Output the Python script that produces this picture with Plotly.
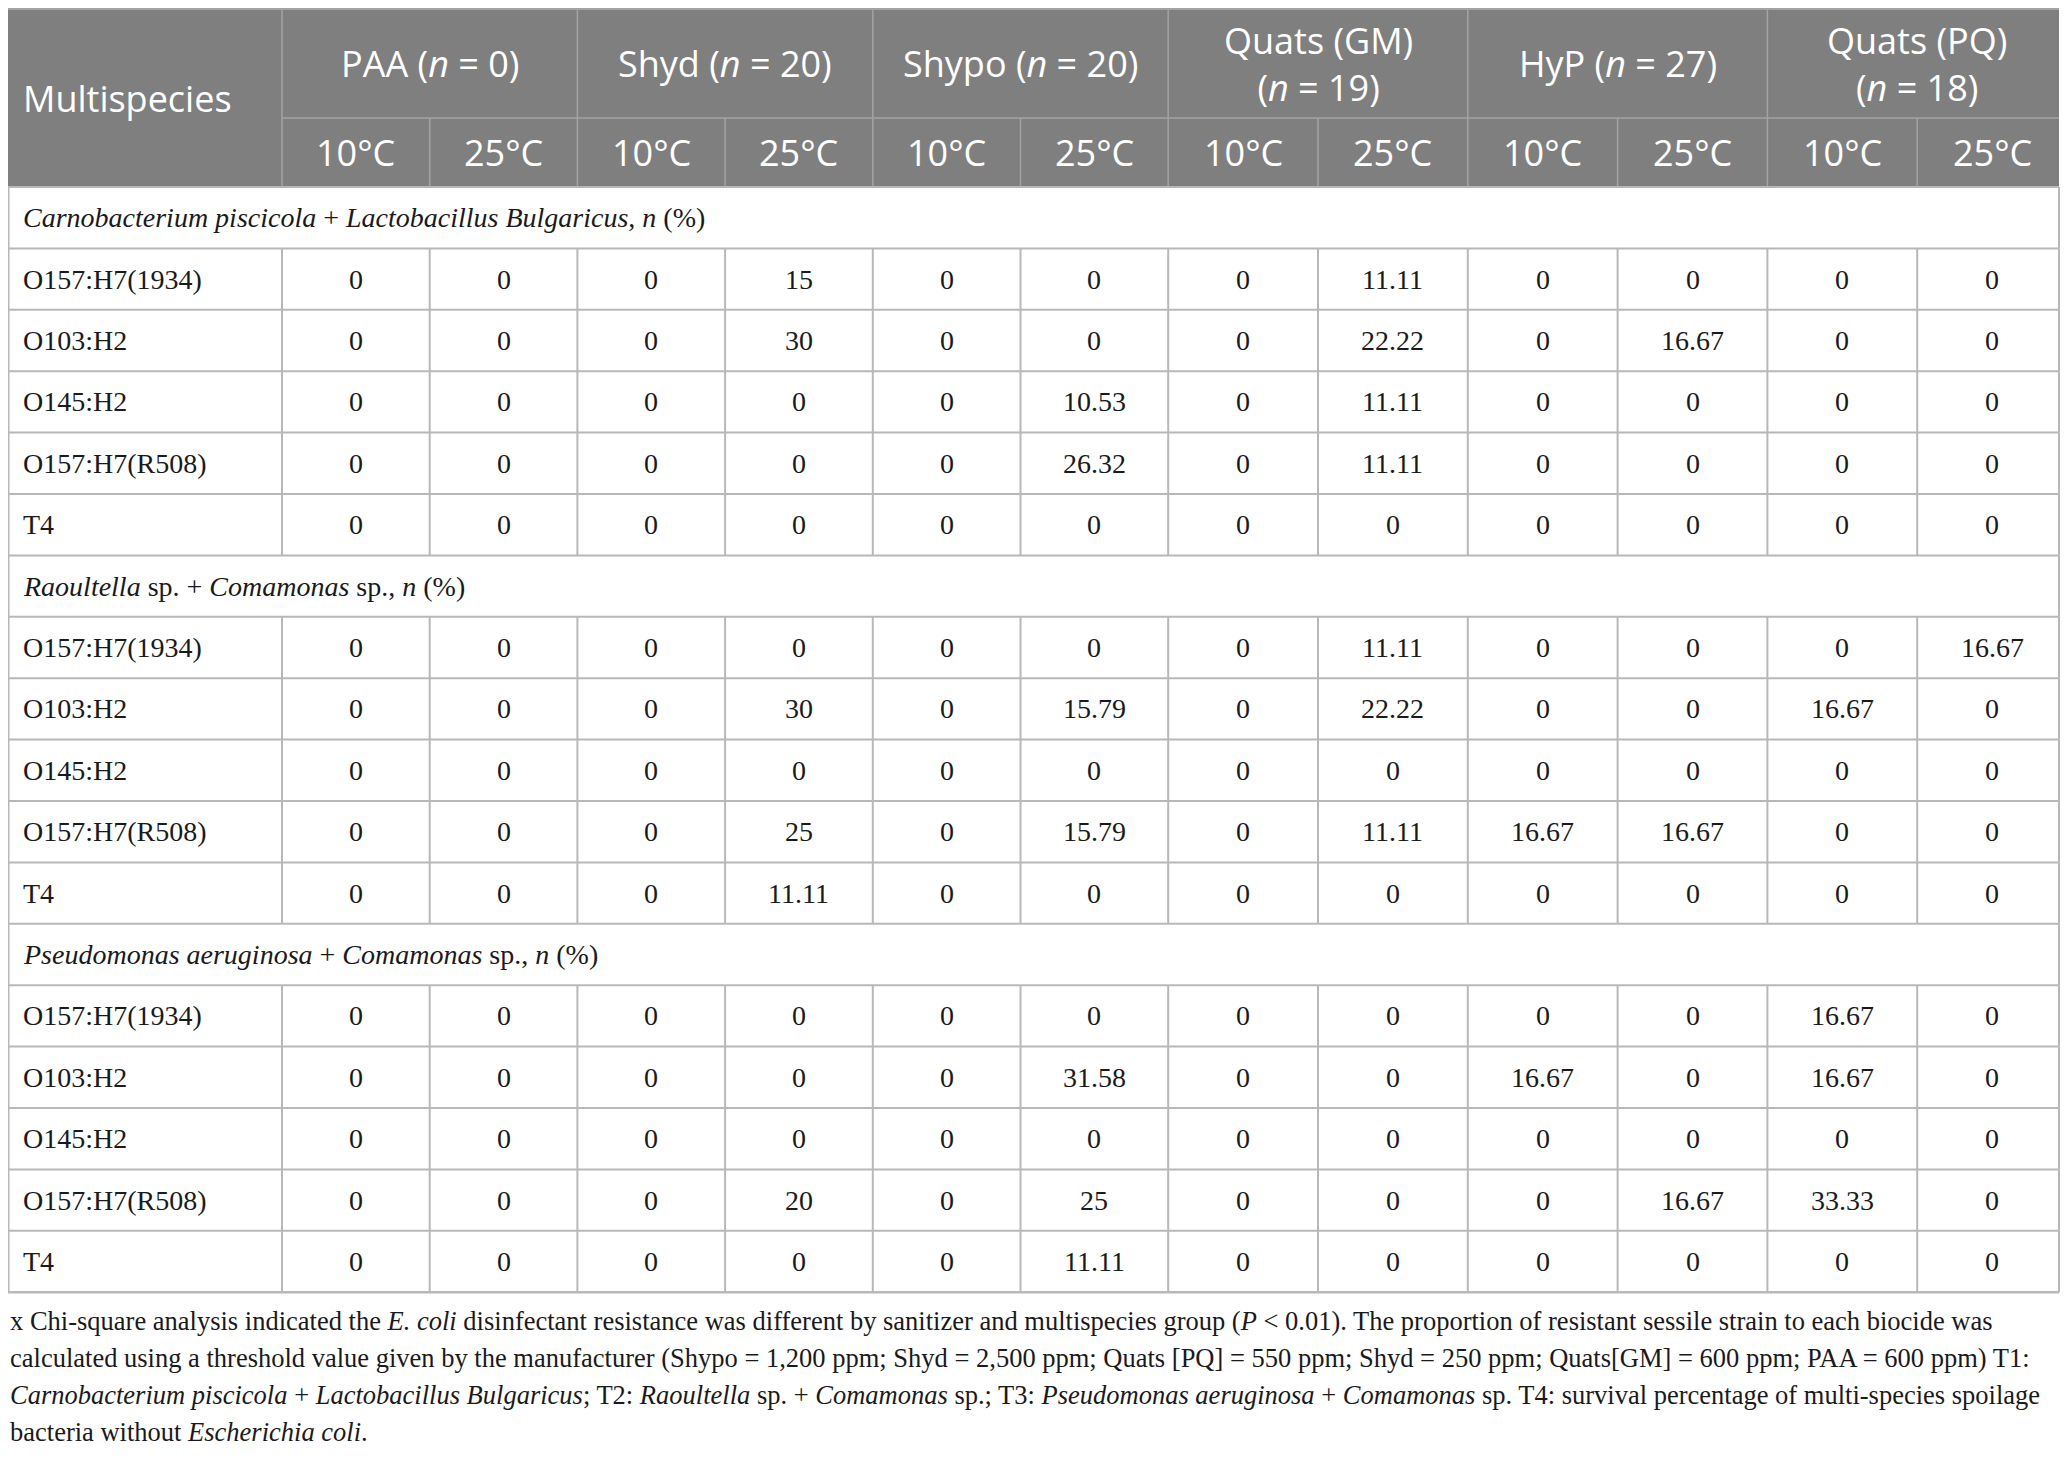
import plotly.graph_objects as go

# ---- table content ----
biocides = ["PAA (<i>n</i> = 0)", "Shyd (<i>n</i> = 20)", "Shypo (<i>n</i> = 20)",
            "Quats (GM)<br>(<i>n</i> = 19)", "HyP (<i>n</i> = 27)", "Quats (PQ)<br>(<i>n</i> = 18)"]
temps = ["10°C", "25°C"]
strains = ["O157:H7(1934)", "O103:H2", "O145:H2", "O157:H7(R508)", "T4"]

group_labels = [
    "<i>Carnobacterium piscicola</i> + <i>Lactobacillus Bulgaricus</i>, <i>n</i> (%)",
    "<i>Raoultella</i> sp. + <i>Comamonas</i> sp., <i>n</i> (%)",
    "<i>Pseudomonas aeruginosa</i> + <i>Comamonas</i> sp., <i>n</i> (%)",
]

carno_lacto = [
    [0, 0, 0, 15, 0, 0, 0, 11.11, 0, 0, 0, 0],
    [0, 0, 0, 30, 0, 0, 0, 22.22, 0, 16.67, 0, 0],
    [0, 0, 0, 0, 0, 10.53, 0, 11.11, 0, 0, 0, 0],
    [0, 0, 0, 0, 0, 26.32, 0, 11.11, 0, 0, 0, 0],
    [0, 0, 0, 0, 0, 0, 0, 0, 0, 0, 0, 0],
]
raoul_coma = [
    [0, 0, 0, 0, 0, 0, 0, 11.11, 0, 0, 0, 16.67],
    [0, 0, 0, 30, 0, 15.79, 0, 22.22, 0, 0, 16.67, 0],
    [0, 0, 0, 0, 0, 0, 0, 0, 0, 0, 0, 0],
    [0, 0, 0, 25, 0, 15.79, 0, 11.11, 16.67, 16.67, 0, 0],
    [0, 0, 0, 11.11, 0, 0, 0, 0, 0, 0, 0, 0],
]
pseudo_coma = [
    [0, 0, 0, 0, 0, 0, 0, 0, 0, 0, 16.67, 0],
    [0, 0, 0, 0, 0, 31.58, 0, 0, 16.67, 0, 16.67, 0],
    [0, 0, 0, 0, 0, 0, 0, 0, 0, 0, 0, 0],
    [0, 0, 0, 20, 0, 25, 0, 0, 0, 16.67, 33.33, 0],
    [0, 0, 0, 0, 0, 11.11, 0, 0, 0, 0, 0, 0],
]
groups = [carno_lacto, raoul_coma, pseudo_coma]

footnote_lines = [
    "x Chi-square analysis indicated the <i>E. coli</i> disinfectant resistance was different by sanitizer and "
    "multispecies group (<i>P</i> < 0.01). The proportion of resistant sessile strain to each biocide was",
    "calculated using a threshold value given by the manufacturer (Shypo = 1,200 ppm; Shyd = 2,500 ppm; "
    "Quats [PQ] = 550 ppm; Shyd = 250 ppm; Quats[GM] = 600 ppm; PAA = 600 ppm) T1:",
    "<i>Carnobacterium piscicola</i> + <i>Lactobacillus Bulgaricus</i>; T2: <i>Raoultella</i> sp. + "
    "<i>Comamonas</i> sp.; T3: <i>Pseudomonas aeruginosa</i> + <i>Comamonas</i> sp. T4: survival percentage "
    "of multi-species spoilage",
    "bacteria without <i>Escherichia coli</i>.",
]

# ---- geometry / style ----
W, H = 2068, 1460
PAGE = 8  # default body margin of the html page
first_w = 282
col_w = [147.7] * 6 + [149.8] * 6
top, head_mid, head_bot = 9, 118, 187
row_h = 61.4
head_bg = "#7f7f7f"
head_line = "#a3a3a3"
body_line = "#b8b8b8"
ink = "#1a1a1a"
sans = "Open Sans"
serif = "Liberation Serif"
head_size, body_size, note_size = 36, 28, 26.5

edges = [0, first_w]
for w in col_w:
    edges.append(edges[-1] + w)
right = W - PAGE - 1

shapes, annots = [], []


def line(x0, y0, x1, y1, color, width=1.5):
    shapes.append(dict(type="line", xref="x", yref="y", x0=x0, y0=y0, x1=x1, y1=y1,
                       line=dict(color=color, width=width)))


def text(x, y, s, size, family, color=ink, anchor="center"):
    annots.append(dict(x=x, y=y, xref="x", yref="y", text=s, showarrow=False,
                       xanchor=anchor, yanchor="middle", align=anchor,
                       font=dict(size=size, family=family, color=color)))


# header block
shapes.append(dict(type="rect", xref="x", yref="y", x0=PAGE, y0=top, x1=right, y1=head_bot,
                   fillcolor=head_bg, line=dict(width=0), layer="below"))
line(PAGE, top, right, top, head_line, 2)
line(first_w, head_mid, right, head_mid, head_line)
for i in range(0, 12, 2):
    line(edges[i + 1], top, edges[i + 1], head_bot, head_line)
for i in range(1, 12, 2):
    line(edges[i + 1], head_mid, edges[i + 1], head_bot, head_line)

text(21, (top + head_bot) / 2, "Multispecies", head_size, sans, "white", "left")
for k, name in enumerate(biocides):
    cx = (edges[1 + 2 * k] + edges[3 + 2 * k]) / 2
    text(cx, (top + head_mid) / 2, name, head_size, sans, "white")
    for j, t in enumerate(temps):
        c = 1 + 2 * k + j
        text((edges[c] + edges[c + 1]) / 2, (head_mid + head_bot) / 2, t, head_size, sans, "white")

# body rows
y = head_bot
for g, rows in enumerate(groups):
    line(PAGE, y, right, y, body_line, 2)
    line(PAGE + 0.5, y, PAGE + 0.5, y + row_h, body_line, 2)
    line(right, y, right, y + row_h, body_line, 2)
    text(21, y + row_h / 2, group_labels[g], body_size, serif, ink, "left")
    y += row_h
    for r, vals in enumerate(rows):
        line(PAGE, y, right, y, body_line, 2)
        line(PAGE + 0.5, y, PAGE + 0.5, y + row_h, body_line, 2)
        for e in edges[1:-1] + [right]:
            line(e, y, e, y + row_h, body_line, 2)
        text(21, y + row_h / 2, strains[r], body_size, serif, ink, "left")
        for c, v in enumerate(vals):
            text((edges[c + 1] + edges[c + 2]) / 2, y + row_h / 2, f"{v:g}", body_size, serif)
        y += row_h
line(PAGE, y, right, y, body_line, 2.5)

# footnote
for i, s in enumerate(footnote_lines):
    text(PAGE, y + 29 + i * 37, s, note_size, serif, ink, "left")

fig = go.Figure()
fig.update_layout(
    width=W - 2 * PAGE, height=H - 2 * PAGE,
    margin=dict(l=0, r=0, t=0, b=0),
    paper_bgcolor="white", plot_bgcolor="white",
    xaxis=dict(range=[PAGE, W - PAGE], visible=False, fixedrange=True),
    yaxis=dict(range=[H - PAGE, PAGE], visible=False, fixedrange=True),
    shapes=shapes, annotations=annots,
    showlegend=False,
)

fig.write_html("out.html")
